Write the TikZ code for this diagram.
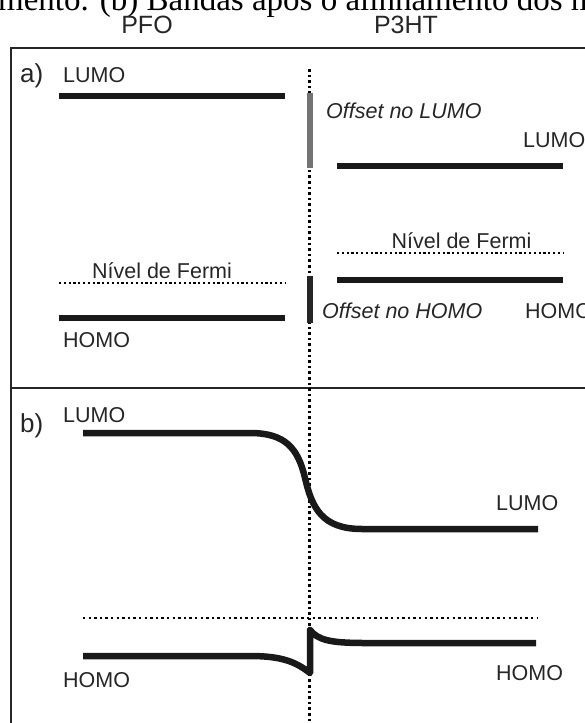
\documentclass[tikz,border=0pt]{standalone}
\usepackage{fontspec}
\setmainfont{Liberation Serif}
\setsansfont{Liberation Sans}

\begin{document}
\begin{tikzpicture}[
    x=1pt, y=-1pt,
    level/.style={line width=6.5pt, black!90},
    band/.style={line width=6.5pt, black!90, line join=round},
    fermi/.style={line width=2.2pt, dash pattern=on 2.2pt off 2.6pt},
    interface/.style={line width=2.6pt, dash pattern=on 2.6pt off 3pt},
    offset/.style={line width=6pt},
    frame/.style={line width=2pt, black!85},
    lbl/.style={font=\sffamily\fontsize{21.5}{24}\selectfont, text=black!85, inner sep=0pt, anchor=base west},
    title/.style={font=\sffamily\fontsize{25}{28}\selectfont, text=black!85, inner sep=0pt, anchor=base},
    panel/.style={font=\sffamily\fontsize{26}{28}\selectfont, text=black!85, inner sep=0pt, anchor=base west}
]
    \useasboundingbox (0,0) rectangle (584,723);

    % caption line above the figure
    \node[font=\fontsize{33}{36}\selectfont, inner sep=0pt, anchor=base west] (caption) at (-16.7,10)
        {amento. (b) Bandas após o alinhamento dos m};

    \node[title] (pfo) at (147,33) {PFO};
    \node[title] (p3ht) at (406,33) {P3HT};

    % frame and divider
    \draw[frame] (11,730) -- (11,48) -- (590,48);
    \draw[frame, line width=1.6pt] (11,388) -- (590,388);

    % interface
    \draw[interface] (309.5,69) -- (309.5,730);

    % ---- a) before contact
    \node[panel] (a) at (20,82) {a)};
    \draw[level] (59,96) -- (285,96);
    \draw[fermi] (59,283) -- (285,283);
    \draw[level] (59,318) -- (285,318);
    \node[lbl] (lumoA) at (63,82) {LUMO};
    \node[lbl, anchor=base] (fermiA) at (162,278) {Nível de Fermi};
    \node[lbl] (homoA) at (63,347) {HOMO};

    \draw[level] (337,166) -- (563,166);
    \draw[fermi] (337,253) -- (563,253);
    \draw[level] (337,280) -- (563,280);
    \node[lbl] (lumoB) at (523,147) {LUMO};
    \node[lbl, anchor=base] (fermiB) at (461.5,248) {Nível de Fermi};
    \node[lbl] (homoB) at (525,318) {HOMO};

    \draw[offset, black!55] (310,93) -- (310,168);
    \draw[offset, black!85] (310,276) -- (310,323);
    \node[lbl, font=\sffamily\itshape\fontsize{21.5}{24}\selectfont] (offL) at (326,118) {Offset no LUMO};
    \node[lbl, font=\sffamily\itshape\fontsize{21.5}{24}\selectfont] (offH) at (322,318) {Offset no HOMO};

    % ---- b) after alignment
    \node[panel] (b) at (20,432) {b)};
    \draw[band] (83,433) -- (250,433)
        .. controls (285,433) and (298,448) .. (305,478)
        .. controls (312,508) and (322,529) .. (362,529) -- (538,529);
    \draw[fermi, line width=2.4pt, dash pattern=on 2.4pt off 3.2pt] (83,618) -- (537,618);
    \draw[band] (83,656) -- (250,656)
        .. controls (282,656) and (296,662) .. (310,673) -- (310,630)
        .. controls (318,640) and (330,643) .. (365,643) -- (536,643);
    \node[lbl] (lumoC) at (63,422) {LUMO};
    \node[lbl] (homoC) at (63,687) {HOMO};
    \node[lbl] (lumoD) at (496,510) {LUMO};
    \node[lbl] (homoD) at (496,680) {HOMO};
\end{tikzpicture}
\end{document}
